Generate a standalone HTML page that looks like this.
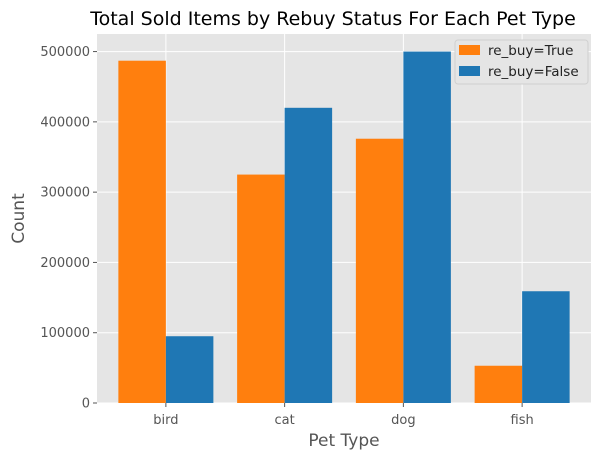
<!DOCTYPE html>
<html><head><meta charset="utf-8"><style>
body{margin:0;background:#fff;}
svg{display:block;font-family:"DejaVu Sans","Liberation Sans",sans-serif;}
</style></head><body>
<svg id="chart" width="610" height="460"></svg>
<script>
const categories=["bird","cat","dog","fish"];
const rebuyTrue=[487000,325000,376000,53000];
const rebuyFalse=[95000,420000,500000,159000];
const yTicks=[0,100000,200000,300000,400000,500000];
const L=97,R=591,T=34,B=403;
const xMin=-0.58,xMax=3.58,yMax=525000;
const xs=v=>L+(v-xMin)/(xMax-xMin)*(R-L);
const ys=v=>B-v/yMax*(B-T);
const svg=document.getElementById('chart');
const NS='http://www.w3.org/2000/svg';
function mk(tag,attrs,parent){const e=document.createElementNS(NS,tag);for(const k in attrs)e.setAttribute(k,attrs[k]);(parent||svg).appendChild(e);return e;}
const bg=mk('rect',{x:L,y:T,width:R-L,height:B-T,fill:'#e5e5e5'});


yTicks.forEach(t=>{
 const g=mk('line',{x1:L,x2:R,y1:ys(t),y2:ys(t),stroke:'#fff','stroke-width':1});
 
 
 mk('line',{x1:L-4,x2:L,y1:ys(t),y2:ys(t),stroke:'#555'});
 const tx=mk('text',{x:L-7,y:ys(t)+4.5,'text-anchor':'end','font-size':13,fill:'#555'});
 tx.textContent=t;
 
 
});
categories.forEach((c,i)=>{
 const g=mk('line',{x1:xs(i),x2:xs(i),y1:T,y2:B,stroke:'#fff','stroke-width':1});
 
 
});
categories.forEach((c,i)=>{
 const b1=mk('rect',{x:xs(i-0.4),y:ys(rebuyTrue[i]),width:xs(i)-xs(i-0.4),height:B-ys(rebuyTrue[i]),fill:'#ff7f0e'});
 
 
 const b2=mk('rect',{x:xs(i),y:ys(rebuyFalse[i]),width:xs(i+0.4)-xs(i),height:B-ys(rebuyFalse[i]),fill:'#1f77b4'});
 
 
 mk('line',{x1:xs(i),x2:xs(i),y1:B,y2:B+4,stroke:'#555'});
 const tx=mk('text',{x:xs(i),y:B+21,'text-anchor':'middle','font-size':13,fill:'#555'});
 tx.textContent=c;
 
 
});
const title=mk('text',{x:333,y:25,'text-anchor':'middle','font-size':19,fill:'#000'});
title.textContent='Total Sold Items by Rebuy Status For Each Pet Type';


const xl=mk('text',{x:(L+R)/2,y:446,'text-anchor':'middle','font-size':17,fill:'#555'});
xl.textContent='Pet Type';


const yl=mk('text',{x:24,y:(T+B)/2,'text-anchor':'middle','font-size':17,fill:'#555',transform:'rotate(-90 24 '+((T+B)/2)+')'});
yl.textContent='Count';


const lg=mk('g',{});


mk('rect',{x:455,y:40,width:133,height:44,rx:3,fill:'#e5e5e5',stroke:'#d0d0d0'},lg);
[['re_buy=True','#ff7f0e'],['re_buy=False','#1f77b4']].forEach((d,k)=>{
 const y=45+k*21;
 const sw=mk('rect',{x:459,y:y,width:21,height:10,fill:d[1]},lg);
 
 
 const t=mk('text',{x:488,y:y+10,'font-size':13.5,fill:'#222'},lg);
 t.textContent=d[0];
 
 
});
</script>
</body></html>
